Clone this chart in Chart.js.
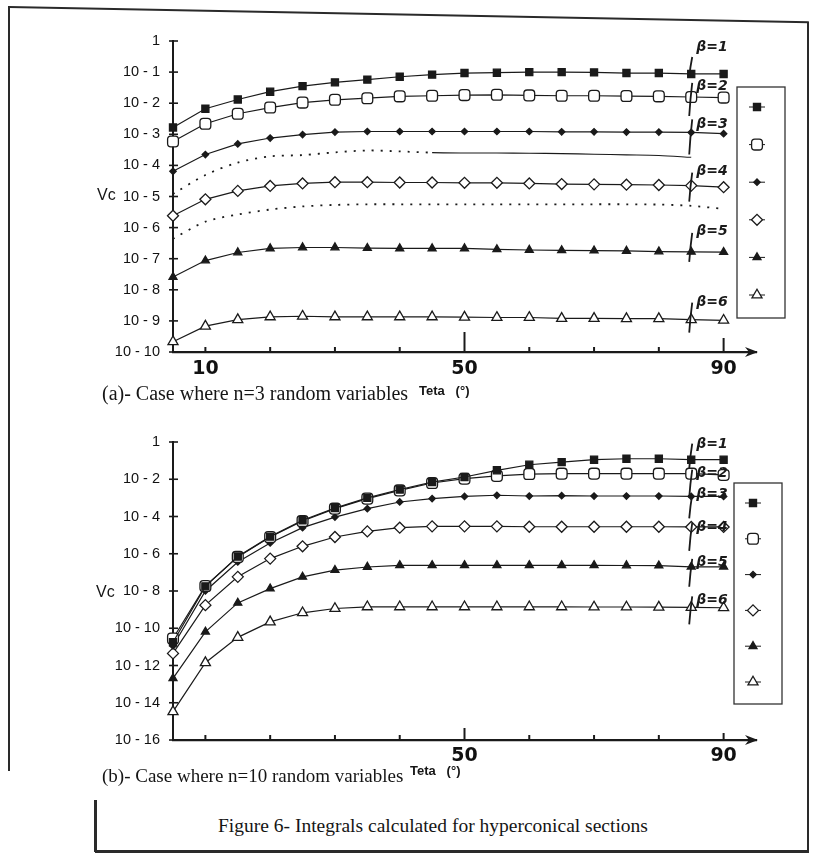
<!DOCTYPE html>
<html>
<head>
<meta charset="utf-8">
<script src="https://cdn.jsdelivr.net/npm/chart.js@4.4.1/dist/chart.umd.min.js"></script>
<style>
  html,body{margin:0;padding:0;background:#fff;}
  body{width:814px;height:859px;position:relative;overflow:hidden;}
  .wrap{position:absolute;left:0;width:814px;height:400px;}
  .t{position:absolute;white-space:nowrap;color:#151515;line-height:20px;}
  .serif{font-family:"Liberation Serif","DejaVu Serif",serif;}
  .axl{font-family:"Liberation Sans",Arial,sans-serif;font-size:13px;font-weight:bold;}
  .vc{font-family:"Liberation Sans",Arial,sans-serif;font-size:16px;}
  .ln{position:absolute;background:#2a2a2a;}
</style>
</head>
<body>
<div class="wrap" style="top:0"><canvas id="cA" width="814" height="400"></canvas></div>
<div class="wrap" style="top:400px"><canvas id="cB" width="814" height="400"></canvas></div>

<div class="t vc" style="left:97px;top:185px">Vc</div>
<div class="t vc" style="left:96px;top:582px">Vc</div>
<div class="t axl" style="left:419px;top:381px">Teta&nbsp;&nbsp; (°)</div>
<div class="t axl" style="left:410px;top:761px">Teta&nbsp;&nbsp; (°)</div>
<div class="t serif" style="left:102px;top:383px;font-size:20px">(a)- Case where n=3 random variables</div>
<div class="t serif" style="left:102px;top:766px;font-size:19px">(b)- Case where n=10 random variables</div>
<div class="t serif" style="left:218px;top:816px;font-size:19.5px">Figure 6- Integrals calculated for hyperconical sections</div>

<!-- page frame -->
<div class="ln" style="left:9px;top:6px;width:800px;height:2px;transform-origin:0 0;transform:rotate(1.1deg)"></div>
<div class="ln" style="left:8px;top:6px;width:2px;height:765px"></div>
<div class="ln" style="left:807px;top:22px;width:2px;height:830px"></div>
<div class="ln" style="left:95px;top:850px;width:714px;height:3px"></div>
<div class="ln" style="left:94px;top:800px;width:3px;height:52px"></div>

<script>
// ---------- data (log10 of Vc) ----------
const theta = [5,10,15,20,25,30,35,40,45,50,55,60,65,70,75,80,85,90];
const xTicks = [10,20,30,40,50,60,70,80,90];
const xLabelsA = [10,50,90];
const xLabelsB = [50,90];
const yTicksA = [0,-1,-2,-3,-4,-5,-6,-7,-8,-9,-10];
const yTicksB = [0,-2,-4,-6,-8,-10,-12,-14,-16];
const betaNames = ['β=1','β=2','β=3','β=4','β=5','β=6'];

// (a) n = 3
const n3_beta1 = [-2.78,-2.18,-1.88,-1.63,-1.45,-1.33,-1.24,-1.15,-1.08,-1.03,-1.02,-1.00,-1.00,-1.01,-1.03,-1.03,-1.06,-1.06];
const n3_beta2 = [-3.23,-2.66,-2.34,-2.14,-1.98,-1.89,-1.84,-1.78,-1.76,-1.74,-1.73,-1.75,-1.76,-1.76,-1.77,-1.78,-1.80,-1.82];
const n3_beta3 = [-4.19,-3.65,-3.31,-3.12,-3.01,-2.93,-2.91,-2.91,-2.91,-2.91,-2.91,-2.91,-2.92,-2.92,-2.93,-2.93,-2.94,-2.98];
const n3_beta4 = [-5.62,-5.09,-4.82,-4.66,-4.58,-4.54,-4.54,-4.55,-4.55,-4.56,-4.56,-4.58,-4.60,-4.61,-4.62,-4.63,-4.65,-4.70];
const n3_beta5 = [-7.59,-7.06,-6.80,-6.67,-6.64,-6.64,-6.66,-6.67,-6.67,-6.67,-6.70,-6.72,-6.73,-6.74,-6.75,-6.77,-6.78,-6.79];
const n3_beta6 = [-9.67,-9.17,-8.96,-8.87,-8.85,-8.87,-8.87,-8.87,-8.87,-8.88,-8.89,-8.89,-8.92,-8.92,-8.93,-8.93,-8.96,-8.98];
// unmarked traces visible in (a)
const n3_traceA = [-4.92,-4.31,-3.91,-3.71,-3.67,-3.58,-3.52,-3.55,-3.59,-3.60,-3.60,-3.61,-3.62,-3.64,-3.66,-3.68,-3.74,null];
const n3_traceB = [-6.36,-5.81,-5.58,-5.42,-5.32,-5.27,-5.25,-5.25,-5.25,-5.25,-5.25,-5.25,-5.25,-5.25,-5.25,-5.26,-5.30,-5.40];

// (b) n = 10
const n10_beta1 = [-10.75,-7.75,-6.15,-5.08,-4.20,-3.55,-3.00,-2.55,-2.15,-1.88,-1.52,-1.22,-1.08,-0.95,-0.90,-0.90,-0.95,-0.95];
const n10_beta2 = [-10.55,-7.73,-6.17,-5.10,-4.24,-3.58,-3.04,-2.60,-2.20,-1.97,-1.82,-1.72,-1.70,-1.70,-1.70,-1.70,-1.70,-1.77];
const n10_beta3 = [-10.95,-8.00,-6.44,-5.42,-4.60,-4.03,-3.58,-3.22,-3.04,-2.92,-2.86,-2.90,-2.88,-2.90,-2.90,-2.90,-2.92,-2.92];
const n10_beta4 = [-11.35,-8.76,-7.24,-6.26,-5.60,-5.10,-4.80,-4.60,-4.53,-4.53,-4.53,-4.55,-4.55,-4.55,-4.55,-4.55,-4.56,-4.56];
const n10_beta5 = [-12.69,-10.19,-8.64,-7.87,-7.24,-6.88,-6.71,-6.62,-6.62,-6.62,-6.62,-6.62,-6.62,-6.62,-6.63,-6.64,-6.70,-6.70];
const n10_beta6 = [-14.48,-11.85,-10.49,-9.66,-9.17,-8.94,-8.85,-8.85,-8.85,-8.85,-8.85,-8.85,-8.85,-8.86,-8.86,-8.87,-8.88,-8.90];

// ---------- styles ----------
const INK = '#1a1a1a';
const markerStyles = [
  {pointStyle:'rect',        radius:5,   fill:INK},
  {pointStyle:'rectRounded', radius:6.3, fill:'#fff'},
  {pointStyle:'rectRot',     radius:3.2, fill:INK},
  {pointStyle:'rectRot',     radius:5.5, fill:'#fff'},
  {pointStyle:'triangle',    radius:4.6, fill:INK},
  {pointStyle:'triangle',    radius:5.8, fill:'#fff'}
];

function pts(arr){ return theta.map((t,i)=>({x:t,y:arr[i]})); }

function seriesSets(list){
  return list.map((arr,i)=>({
    label: betaNames[i],
    data: pts(arr),
    borderColor: INK,
    borderWidth: 1.2,
    backgroundColor: markerStyles[i].fill,
    pointBackgroundColor: markerStyles[i].fill,
    pointBorderColor: INK,
    pointBorderWidth: 1.3,
    pointStyle: markerStyles[i].pointStyle,
    pointRadius: markerStyles[i].radius,
    tension: 0,
    clip: false,
    order: 1
  }));
}

function traceSet(arr, solidFrom){
  return {
    label:'', data: pts(arr), borderColor: INK, borderWidth: 1.6,
    borderDash:[2,7], pointRadius:0, tension:0.3, clip:false, spanGaps:false, order: 2,
    segment: { borderDash: c => (solidFrom !== null && c.p0.parsed.x >= solidFrom) ? [] : [2,7],
               borderWidth: c => (solidFrom !== null && c.p0.parsed.x >= solidFrom) ? 1.1 : 1.8 }
  };
}

const helpers = Chart.helpers || {};
function drawMarker(ctx, st, x, y){
  ctx.fillStyle = st.fill; ctx.strokeStyle = INK; ctx.lineWidth = 1.3;
  if (helpers.drawPoint) {
    helpers.drawPoint(ctx, {pointStyle: st.pointStyle, radius: st.radius, rotation: 0, borderWidth: 1.3}, x, y);
  } else {
    ctx.beginPath(); ctx.arc(x, y, st.radius*0.8, 0, Math.PI*2); ctx.fill(); ctx.stroke();
  }
}

const decor = {
  id: 'decor',
  afterDatasetsDraw(chart, args, o){
    const ctx = chart.ctx, xs = chart.scales.x, ys = chart.scales.y, ca = chart.chartArea;
    ctx.save();
    ctx.strokeStyle = INK; ctx.fillStyle = INK; ctx.lineWidth = 1.6;
    ys.ticks.forEach(t => {
      const py = ys.getPixelForValue(t.value);
      ctx.beginPath(); ctx.moveTo(ca.left - 4, py); ctx.lineTo(ca.left + 5, py); ctx.stroke();
    });
    ctx.lineWidth = 2;
    xs.ticks.forEach(t => {
      const px = xs.getPixelForValue(t.value);
      const len = o.tickLen[t.value] !== undefined ? o.tickLen[t.value] : o.tickLen.def;
      ctx.beginPath(); ctx.moveTo(px, ca.bottom); ctx.lineTo(px, ca.bottom - len); ctx.stroke();
    });
    const ax = ca.right + 2, ay = ca.bottom;
    ctx.beginPath(); ctx.moveTo(ax, ay); ctx.lineTo(ax - 13, ay - 5); ctx.lineTo(ax - 9, ay); ctx.lineTo(ax - 13, ay + 5); ctx.closePath(); ctx.fill();

    ctx.font = 'italic bold 14px "DejaVu Sans", sans-serif';
    ctx.textBaseline = 'middle'; ctx.textAlign = 'left';
    for (let i = 0; i < 6; i++) {
      const meta = chart.getDatasetMeta(i);
      const idx = theta.indexOf(85);
      const p = meta.data[idx];
      if (!p) continue;
      const cy = p.y + o.betaDy[i];
      ctx.lineWidth = 1.8;
      ctx.beginPath(); ctx.moveTo(p.x + 1, cy + o.strokeFrom[i]); ctx.quadraticCurveTo(p.x - 1, cy + (o.strokeFrom[i] + o.strokeTo)/2, p.x - 2, cy + o.strokeTo); ctx.stroke();
      ctx.fillStyle = INK;
      ctx.fillText(betaNames[i], p.x + 5, cy);
    }

    const L = o.legend;
    ctx.lineWidth = 1.3; ctx.strokeStyle = '#333';
    ctx.strokeRect(L.x, L.y, L.w, L.h);
    for (let i = 0; i < 6; i++) {
      const mx = L.x + L.mx, my = L.y + L.first + i * L.step;
      ctx.strokeStyle = INK; ctx.lineWidth = 1;
      ctx.beginPath(); ctx.moveTo(mx - 8, my); ctx.lineTo(mx + 8, my); ctx.stroke();
      drawMarker(ctx, markerStyles[i], mx, my);
    }
    ctx.restore();
  }
};

function makeChart(id, sets, cfg){
  return new Chart(document.getElementById(id), {
    type: 'line',
    data: { datasets: sets },
    options: {
      responsive: false, animation: false, events: [],
      layout: { padding: { top: cfg.padTop, right: 58, left: 0, bottom: 0 } },
      plugins: { legend: { display: false }, tooltip: { enabled: false }, decor: cfg.decor },
      scales: {
        x: {
          type: 'linear', min: 5, max: 95,
          afterFit: s => { s.height = cfg.xH; },
          afterBuildTicks: s => { s.ticks = xTicks.map(v => ({ value: v })); },
          grid: { display: false, drawTicks: false },
          border: { display: true, color: INK, width: 2.2 },
          ticks: { autoSkip: false, maxRotation: 0, padding: cfg.xPad, color: '#111',
                   font: { family: '"DejaVu Sans", sans-serif', size: 19, weight: 'bold' },
                   callback: v => cfg.xLabels.includes(v) ? String(v) : '' }
        },
        y: {
          type: 'linear', min: cfg.yMin, max: 0,
          afterFit: s => { s.width = 173; },
          afterBuildTicks: s => { s.ticks = cfg.yTicks.map(v => ({ value: v })); },
          grid: { display: false, drawTicks: false },
          border: { display: true, color: INK, width: 2 },
          ticks: { autoSkip: false, padding: 13, color: '#111',
                   font: { family: '"Liberation Sans", Arial, sans-serif', size: 14.5 },
                   callback: v => v === 0 ? '1' : '10 - ' + (-v) }
        }
      }
    },
    plugins: [decor]
  });
}

makeChart('cA',
  [...seriesSets([n3_beta1,n3_beta2,n3_beta3,n3_beta4,n3_beta5,n3_beta6]), traceSet(n3_traceA, 45), traceSet(n3_traceB, null)],
  { padTop: 41, xH: 48, xPad: 6, yMin: -10, yTicks: yTicksA, xLabels: xLabelsA,
    decor: {
      tickLen: { def: 5, 50: 20, 90: 14 },
      betaDy: [-27, -11, -8, -14, -20, -17],
      strokeFrom: [10, -3, -5, 1, 1, 0], strokeTo: 30,
      legend: { x: 737, y: 87, w: 48, h: 231, mx: 20, first: 20, step: 37.6 }
    } });

makeChart('cB',
  seriesSets([n10_beta1,n10_beta2,n10_beta3,n10_beta4,n10_beta5,n10_beta6]),
  { padTop: 42, xH: 60, xPad: 5, yMin: -16, yTicks: yTicksB, xLabels: xLabelsB,
    decor: {
      tickLen: { def: 5, 50: 12, 90: 7 },
      betaDy: [-15, 0, -2, 0, -4, -7],
      strokeFrom: [-1, -4, 0, -4, -4, -4], strokeTo: 24,
      legend: { x: 734, y: 83, w: 48, h: 221, mx: 19, first: 20, step: 35.8 }
    } });
</script>
</body>
</html>
